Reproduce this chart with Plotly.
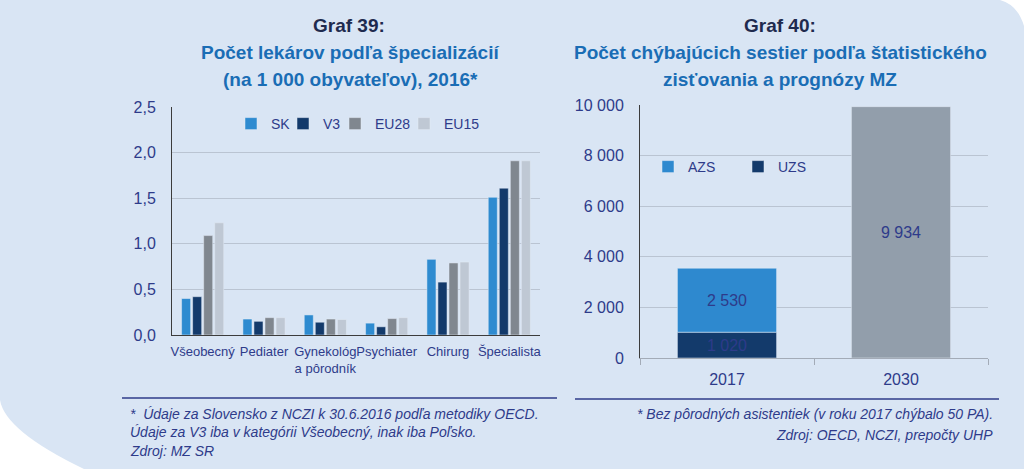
import plotly.graph_objects as go

# Graf 39 data (lekari na 1 000 obyvatelov, 2016)
specializacie = ['Všeobecný', 'Pediater', 'Gynekológ<br>a pôrodník', 'Psychiater', 'Chirurg', 'Špecialista']
sk = [0.40, 0.175, 0.22, 0.13, 0.83, 1.51]
v3 = [0.42, 0.15, 0.14, 0.09, 0.58, 1.61]
eu28 = [1.09, 0.19, 0.175, 0.18, 0.79, 1.91]
eu15 = [1.23, 0.19, 0.17, 0.19, 0.80, 1.91]

# Graf 40 data (chybajuce sestry)
roky = ['2017', '2030']
uzs = [1020]
azs = [2530]
prognoza_2030 = [9934]

W, H = 1024, 469
FONT = 'Liberation Sans, Arial, sans-serif'
TXT = '#2e3b8a'
BG = '#d9e5f4'
GRID = '#bac4d2'


def px(x):
  return x / W


def py(y):
  return 1 - y / H


fig = go.Figure()

# left chart - grouped bars, every legend item placed on its own
for name, vals, col, lg in [('SK', sk, '#2e8bd0', 'legend'), ('V3', v3, '#133a6b', 'legend3'),
                            ('EU28', eu28, '#80878f', 'legend4'), ('EU15', eu15, '#bfc8d4', 'legend5')]:
  fig.add_trace(go.Bar(x=specializacie, y=vals, name=name, marker_color=col,
                       xaxis='x', yaxis='y', legend=lg))

# right chart - stacked 2017 + 2030
lbl = dict(texttemplate='%{y:,}', textposition='inside', insidetextanchor='middle',
           textfont=dict(color=TXT, size=16))
fig.add_trace(go.Bar(x=roky[:1], y=uzs, name='UZS', marker_color='#133a6b',
                     xaxis='x2', yaxis='y2', legend='legend6',
                     offsetgroup='r', width=0.57, **lbl))
fig.add_trace(go.Bar(x=roky[:1], y=azs, base=uzs, name='AZS', marker_color='#2e89cf',
                     xaxis='x2', yaxis='y2', legend='legend2',
                     offsetgroup='r', width=0.57, **lbl))
fig.add_trace(go.Bar(x=roky[1:], y=prognoza_2030, name='2030', marker_color='#929eab',
                     xaxis='x2', yaxis='y2', showlegend=False,
                     offsetgroup='r', width=0.57, **lbl))


def leg(sym_x, y):
  return dict(orientation='h', x=px(sym_x - 14), xanchor='left', y=py(y), yanchor='middle',
              bgcolor='rgba(0,0,0,0)', font=dict(size=14), itemwidth=30)


fig.update_layout(
  width=W, height=H,
  margin=dict(l=0, r=0, t=0, b=0, autoexpand=False),
  paper_bgcolor=BG, plot_bgcolor=BG,
  font=dict(family=FONT, color=TXT, size=14),
  separators=', ',
  barmode='group', bargap=0.28, bargroupgap=0.18,
  xaxis=dict(domain=[px(172), px(540)], anchor='y', showline=True, linecolor='#3c3c3c',
             tickfont=dict(size=13), ticks='', tickangle=0, ticklabelstandoff=4,
             automargin=False, fixedrange=True),
  yaxis=dict(domain=[py(335), py(107)], anchor='x', range=[0, 2.5], dtick=0.5,
             tickformat='.1f', showline=True, linecolor='#3c3c3c', gridcolor=GRID,
             tickfont=dict(size=16), ticklabelstandoff=12, zeroline=False, automargin=False),
  xaxis2=dict(domain=[px(640), px(988)], anchor='y2', showline=True, linecolor='#a3abb7',
              ticks='outside', tickson='boundaries', ticklen=6, tickcolor='#a3abb7',
              tickfont=dict(size=16), tickangle=0, ticklabelstandoff=7, automargin=False),
  yaxis2=dict(domain=[py(358), py(105)], anchor='x2', range=[0, 10000], dtick=2000,
              tickformat=',', showline=True, linecolor='#3c3c3c', gridcolor=GRID,
              tickfont=dict(size=16), ticklabelstandoff=12, zeroline=False, automargin=False),
  legend=leg(245, 124),
  legend3=leg(297, 124),
  legend4=leg(349, 124),
  legend5=leg(418, 124),
  legend2=leg(662, 167),
  legend6=leg(752, 167),
)

# white page corners around the blue panel
fig.add_shape(type='path', xref='paper', yref='paper', line_width=0, fillcolor='white',
              path=f'M 0,{py(400)} Q {px(5)},{py(431)} {px(84)},{py(469)} L 0,{py(469)} Z')
fig.add_shape(type='path', xref='paper', yref='paper', line_width=0, fillcolor='white',
              path=f'M {px(1000)},{py(0)} Q {px(1018)},{py(5)} {px(1024)},{py(26)} L {px(1024)},{py(0)} Z')

# separators above the notes
for x0, x1, y in [(122, 557, 398), (575, 999, 399)]:
  fig.add_shape(type='line', xref='paper', yref='paper', x0=px(x0), x1=px(x1), y0=py(y), y1=py(y),
                line=dict(color='#2e3b8a', width=1.5))

# titles
titles = [
  (349, 26, 'Graf 39:', '#1e2a4e'),
  (350, 53, 'Počet lekárov podľa špecializácií', '#1a6db5'),
  (350, 79, '(na 1 000 obyvateľov), 2016*', '#1a6db5'),
  (780, 26, 'Graf 40:', '#1e2a4e'),
  (780, 53, 'Počet chýbajúcich sestier podľa štatistického', '#1a6db5'),
  (780, 79, 'zisťovania a prognózy MZ', '#1a6db5'),
]
for x, y, t, c in titles:
  fig.add_annotation(x=px(x), y=py(y), xref='paper', yref='paper', text=f'<b>{t}</b>',
                     showarrow=False, xanchor='center', yanchor='middle',
                     font=dict(size=19, color=c))

# notes
notes_left = ['*  Údaje za Slovensko z NCZI k 30.6.2016 podľa metodiky OECD.',
              'Údaje za V3 iba v kategórii Všeobecný, inak iba Poľsko.',
              'Zdroj: MZ SR']
for t, y in zip(notes_left, [414, 432, 451]):
  fig.add_annotation(x=px(128), y=py(y), xref='paper', yref='paper', text=f'<i>{t}</i>',
                     showarrow=False, xanchor='left', yanchor='middle', font=dict(size=14))
notes_right = ['* Bez pôrodných asistentiek (v roku 2017 chýbalo 50 PA).',
               'Zdroj: OECD, NCZI, prepočty UHP']
for t, y in zip(notes_right, [414, 435]):
  fig.add_annotation(x=px(995), y=py(y), xref='paper', yref='paper', text=f'<i>{t}</i>',
                     showarrow=False, xanchor='right', yanchor='middle', font=dict(size=14))

# the page has a default 8px body margin; drop it so the figure fills the window
fig.write_html('out.html', config={'displayModeBar': False},
               post_script="document.body.style.margin='0';")
